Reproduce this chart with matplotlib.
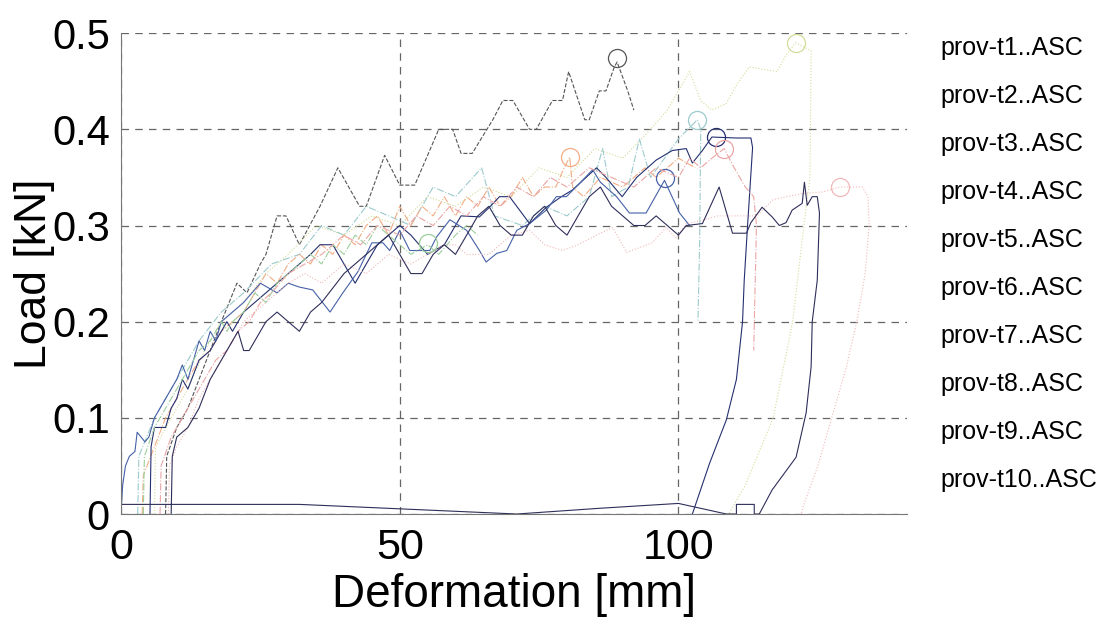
import matplotlib
matplotlib.use('Agg')
import matplotlib.pyplot as plt

plt.rcParams['font.family'] = ['Liberation Sans Narrow', 'Liberation Sans', 'DejaVu Sans']

# ---- data (deformation [mm], load [kN]) ----
labels = ['prov-t%d..ASC' % i for i in range(1, 11)]

t1_x = [8, 8.2, 10, 12, 14, 16, 18, 20.8, 22.6, 25, 26, 28, 29.6, 32, 35.7, 38.9, 42.8, 44, 47.3, 50, 52.7,
        57, 59.5, 61, 63, 66.7, 68.5, 70.3, 73.3, 74.5, 77.4, 79.2, 80.3, 83.2, 84, 85.8, 87, 88.5, 89, 90.9, 92]
t1_y = [0, 0.06, 0.09, 0.11, 0.14, 0.17, 0.2, 0.24, 0.23, 0.26, 0.27, 0.31, 0.31, 0.28, 0.32, 0.36, 0.32, 0.32,
        0.373, 0.342, 0.342, 0.40, 0.40, 0.375, 0.375, 0.41, 0.43, 0.43, 0.40, 0.40, 0.43, 0.43, 0.46, 0.41, 0.41,
        0.44, 0.44, 0.465, 0.47, 0.44, 0.42]

t2_x = [6, 6.2, 9, 12, 15, 18, 22, 26, 30, 35, 40, 45, 50, 55, 60, 65, 70, 75, 80, 85, 90, 95, 98, 102, 104,
        106, 108.6, 110.4, 112.7, 117.7, 119.3, 121, 123.8, 123.6, 122.5, 120.5, 117, 112, 109]
t2_y = [0, 0.07, 0.1, 0.13, 0.17, 0.2, 0.22, 0.25, 0.27, 0.3, 0.29, 0.31, 0.3, 0.33, 0.32, 0.34, 0.33, 0.36,
        0.35, 0.38, 0.37, 0.40, 0.42, 0.46, 0.43, 0.42, 0.427, 0.446, 0.465, 0.46, 0.477, 0.49, 0.482, 0.35,
        0.3, 0.2, 0.1, 0.03, 0]

t3_x = [3, 3.2, 6, 10, 14, 18, 22, 27, 32, 36, 40, 44, 48, 52, 56, 60, 64.7, 67, 72, 76, 80, 84, 86.4, 88, 91,
        93, 95, 100, 103.4, 104, 103.8, 103.5]
t3_y = [0, 0.06, 0.1, 0.14, 0.18, 0.21, 0.23, 0.26, 0.27, 0.3, 0.29, 0.32, 0.31, 0.30, 0.34, 0.33, 0.36, 0.31,
        0.30, 0.32, 0.31, 0.33, 0.38, 0.33, 0.34, 0.39, 0.35, 0.39, 0.41, 0.40, 0.28, 0.2]

t4_x = [3.8, 4, 6, 8, 10, 12, 14, 16, 18, 20, 22, 24, 26, 28, 30, 32, 34, 36, 38, 40, 42, 44, 46, 48, 50, 52,
        54, 56, 58, 60, 62, 64, 66, 68, 70, 72, 74, 76, 78, 79.5, 80.5, 81, 83, 86, 90, 94, 96, 100, 103]
t4_y = [0, 0.04, 0.07, 0.1, 0.12, 0.14, 0.16, 0.17, 0.19, 0.2, 0.21, 0.23, 0.25, 0.24, 0.26, 0.27, 0.26, 0.28,
        0.27, 0.29, 0.28, 0.3, 0.31, 0.29, 0.32, 0.3, 0.32, 0.31, 0.33, 0.31, 0.33, 0.32, 0.34, 0.32, 0.33,
        0.35, 0.33, 0.34, 0.34, 0.36, 0.371, 0.34, 0.33, 0.35, 0.34, 0.36, 0.35, 0.37, 0.36]

t5_x = [5.2, 5.4, 6, 8, 9, 10, 11, 12, 14, 16, 18, 19, 20, 22, 24, 26, 28, 30, 32, 34, 35.7, 38, 40, 42, 44,
        46, 50, 52, 55, 58, 61, 64.3, 66.1, 67.9, 69.7, 73.3, 76.3, 79, 81, 85.3, 87, 89.9, 92.5, 96, 98.9,
        101.4, 102.5, 104.3, 106, 110.4, 113, 113.3, 112.4, 111.8, 111.5, 110.4, 108.6, 105.6, 102.5]
t5_y = [0, 0.07, 0.09, 0.09, 0.11, 0.12, 0.14, 0.13, 0.16, 0.17, 0.19, 0.2, 0.19, 0.21, 0.22, 0.23, 0.24, 0.25,
        0.26, 0.27, 0.28, 0.28, 0.26, 0.24, 0.26, 0.28, 0.30, 0.29, 0.27, 0.28, 0.31, 0.309, 0.319, 0.33, 0.33,
        0.302, 0.319, 0.33, 0.337, 0.36, 0.35, 0.33, 0.35, 0.368, 0.378, 0.38, 0.365, 0.378, 0.392, 0.391,
        0.391, 0.381, 0.30, 0.243, 0.2, 0.14, 0.098, 0.053, 0]

t6_x = [0, 0.3, 0.8, 1.5, 2.5, 2.9, 4.3, 5, 6, 7, 8, 9, 10, 11, 12, 13, 14, 15, 16, 17, 18, 20, 22, 25, 28,
        30, 32, 34.4, 37.5, 39.8, 42.5, 45, 47, 48.2, 50, 51.8, 55.4, 56.6, 59, 62, 64.3, 65.5, 67.4, 69.2,
        71, 73.3, 76.3, 78.1, 79.9, 82.3, 84.6, 86, 88.9, 91.2, 94.2, 97.5, 100.2, 102]
t6_y = [0, 0.03, 0.05, 0.06, 0.065, 0.085, 0.075, 0.08, 0.1, 0.11, 0.12, 0.13, 0.14, 0.155, 0.14, 0.16, 0.18,
        0.17, 0.19, 0.18, 0.2, 0.21, 0.22, 0.24, 0.23, 0.24, 0.236, 0.233, 0.21, 0.23, 0.252, 0.282, 0.282,
        0.274, 0.295, 0.274, 0.274, 0.288, 0.306, 0.295, 0.274, 0.262, 0.271, 0.274, 0.295, 0.302, 0.316,
        0.33, 0.33, 0.344, 0.358, 0.345, 0.33, 0.313, 0.313, 0.347, 0.313, 0.30]

t7_x = [8.5, 8.7, 10, 12, 14, 16, 18, 20, 22, 24, 26, 28, 30, 33, 36, 40, 44, 48, 52, 55, 58, 60, 62, 66, 70,
        73.3, 76, 79.2, 82, 86, 88.2, 90.7, 95.3, 97.8, 99.6, 101.4, 104, 107, 110, 114, 117, 122, 126, 128.9,
        133, 134, 134.2, 133.5, 132, 130, 127.5, 125, 122.5, 122]
t7_y = [0, 0.05, 0.07, 0.09, 0.12, 0.14, 0.16, 0.18, 0.2, 0.21, 0.22, 0.23, 0.24, 0.25, 0.24, 0.26, 0.25, 0.27,
        0.26, 0.27, 0.28, 0.28, 0.27, 0.27, 0.29, 0.295, 0.28, 0.274, 0.28, 0.292, 0.298, 0.272, 0.282,
        0.298, 0.287, 0.302, 0.305, 0.31, 0.31, 0.31, 0.327, 0.333, 0.335, 0.34, 0.34, 0.33, 0.3, 0.25, 0.2,
        0.15, 0.1, 0.05, 0.01, 0]

t8_x = [4, 4.2, 6, 8, 10, 12, 14, 16, 18, 19, 20, 22, 24, 26, 28, 30, 32, 34, 36, 38, 40, 42, 44, 46, 48, 50,
        52, 55, 57, 60, 62, 64]
t8_y = [0, 0.06, 0.09, 0.11, 0.13, 0.15, 0.17, 0.18, 0.2, 0.19, 0.2, 0.21, 0.23, 0.22, 0.24, 0.25, 0.26, 0.27,
        0.26, 0.28, 0.27, 0.29, 0.28, 0.30, 0.29, 0.28, 0.27, 0.28, 0.27, 0.29, 0.30, 0.29]

t9_x = [7, 7.2, 9, 11, 13, 15, 17, 19, 21, 23, 25, 27, 30, 33, 36, 40, 43, 46, 50, 53, 56, 59, 62, 65, 68, 71,
        74, 77, 80, 84, 88, 92, 96, 100, 102, 104, 106, 108.2, 110, 112, 113.5, 114, 113.8, 113.5]
t9_y = [0, 0.05, 0.08, 0.1, 0.12, 0.14, 0.16, 0.17, 0.19, 0.2, 0.22, 0.23, 0.25, 0.26, 0.27, 0.29, 0.28, 0.30,
        0.29, 0.31, 0.30, 0.32, 0.31, 0.33, 0.32, 0.34, 0.33, 0.35, 0.34, 0.36, 0.35, 0.34, 0.36, 0.35, 0.37,
        0.36, 0.37, 0.38, 0.36, 0.34, 0.33, 0.30, 0.25, 0.17]

t10_x = [9, 9.2, 10, 12, 14, 16, 18, 20, 21, 22, 23, 24, 26, 28, 30, 32, 34, 36, 38, 40, 42, 44, 46, 48, 50,
         52, 54, 56, 58, 60, 62, 64, 66, 68, 70, 72, 74, 76, 78, 80, 82, 84, 86, 88, 90, 92, 94, 96, 98, 100,
         101.4, 104.3, 107.3, 109.7, 112.2, 113, 115, 116.8, 118.1, 119.3, 120.4, 122.2, 122.6, 123.1, 124,
         124.9, 125.3, 124.9, 124, 123.8, 122.9, 121.1, 116.8, 114.5, 113.6, 113.6, 110.4, 110.4, 108.6, 100,
         86, 71, 32, 0]
t10_y = [0, 0.06, 0.08, 0.09, 0.11, 0.14, 0.16, 0.18, 0.19, 0.17, 0.17, 0.18, 0.2, 0.21, 0.2, 0.19, 0.21,
         0.22, 0.235, 0.25, 0.26, 0.27, 0.28, 0.29, 0.27, 0.25, 0.25, 0.27, 0.28, 0.27, 0.29, 0.31, 0.32, 0.30,
         0.29, 0.29, 0.31, 0.32, 0.3, 0.29, 0.31, 0.33, 0.34, 0.32, 0.31, 0.30, 0.30, 0.31, 0.30, 0.29, 0.30,
         0.302, 0.34, 0.292, 0.292, 0.303, 0.319, 0.309, 0.30, 0.303, 0.316, 0.323, 0.345, 0.321, 0.33, 0.33,
         0.313, 0.243, 0.2, 0.153, 0.105, 0.059, 0.025, 0, 0, 0.01, 0.01, 0, 0, 0.011, 0.006, 0, 0.01, 0.01]

# peak markers (circles) per test, None where no circle drawn
peak_x = [89, 121.1, 103.4, 80.5, 106.8, 97.5, 128.9, 55, 108.2, None]
peak_y = [0.474, 0.49, 0.41, 0.371, 0.392, 0.349, 0.34, 0.282, 0.38, None]

xs = [t1_x, t2_x, t3_x, t4_x, t5_x, t6_x, t7_x, t8_x, t9_x, t10_x]
ys = [t1_y, t2_y, t3_y, t4_y, t5_y, t6_y, t7_y, t8_y, t9_y, t10_y]

colors = ['#555555', '#d3dc98', '#9ccacd', '#f2ad85', '#25306f',
          '#4661a8', '#f2b8b8', '#9ccf9c', '#eaa5a5', '#2e2e5a']
styles = ['--', ':', '-.', '-.', '-', '-', ':', '-.', '-.', '-']

fig = plt.figure(figsize=(11.03, 6.26), dpi=100)
ax = fig.add_axes([0.1097, 0.1789, 0.7126, 0.7681])

for i in range(10):
    ax.plot(xs[i], ys[i], color=colors[i], linestyle=styles[i], linewidth=0.8)
    if peak_x[i] is not None:
        ax.plot(peak_x[i], peak_y[i], 'o', mfc='none', mec=colors[i], ms=13, mew=0.9)

ax.set_xlim(0, 141)
ax.set_ylim(0, 0.5)
ax.set_xticks([0, 50, 100])
ax.set_yticks([0, 0.1, 0.2, 0.3, 0.4, 0.5])
ax.set_yticklabels(['0', '0.1', '0.2', '0.3', '0.4', '0.5'])
ax.tick_params(axis='y', length=0, labelsize=30, pad=8)
ax.tick_params(axis='x', length=0, labelsize=31, pad=10)
ax.grid(True, linestyle=(0, (6, 5)), color='#666666', linewidth=0.9)
ax.spines['top'].set_visible(False)
ax.spines['right'].set_visible(False)
ax.spines['left'].set_color('#777777')
ax.spines['bottom'].set_color('#777777')
ax.set_xlabel('Deformation [mm]', fontsize=33, labelpad=4)
ax.set_ylabel('Load [kN]', fontsize=32)
ax.yaxis.set_label_coords(-0.084, 0.5)

for i, lab in enumerate(labels):
    fig.text(940 / 1103, 1 - (48 + 48 * i) / 626, lab, fontsize=18, va='center', ha='left')

fig.savefig('out.png', dpi=100)
